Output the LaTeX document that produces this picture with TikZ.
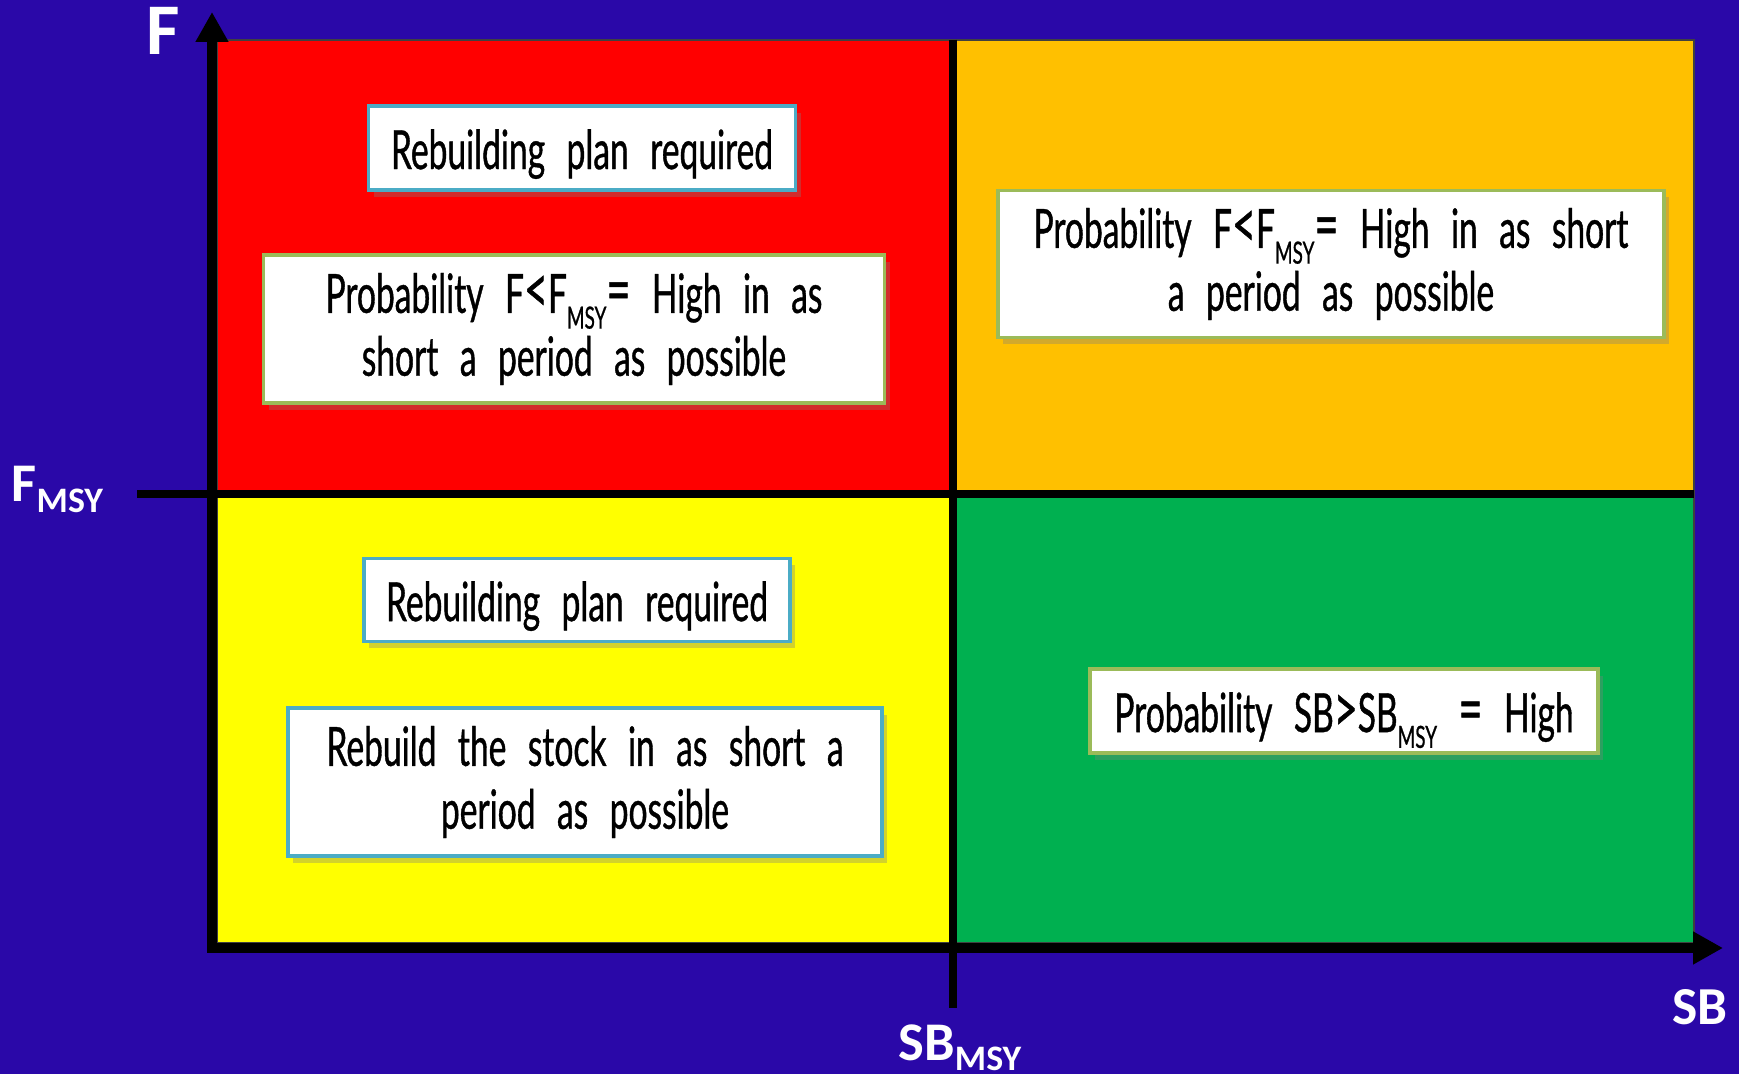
\documentclass[tikz,border=0pt]{standalone}
\usepackage{fontspec}
\setmainfont{Carlito}
\newfontfamily\boxfont[FakeStretch=0.62,WordSpace=2.5,FakeBold=0.7]{Lato}
\usetikzlibrary{arrows.meta, shadows}

% lowered subscript inside the boxes
\newcommand{\boxsub}[1]{\raisebox{-4.5pt}[0pt][0pt]{\fontsize{8.7}{8.7}\selectfont #1}}
% larger comparison signs inside the boxes
\newcommand{\boxrel}[1]{{\fontsize{19}{17.9}\selectfont #1}}
% lowered subscript on the axis labels
\newcommand{\axissub}[1]{\raisebox{-3.1pt}{\fontsize{10.2}{10.2}\selectfont #1}}

\begin{document}
\begin{tikzpicture}[x=0.1mm, y=-0.1mm,
    quadrant/.style={draw=black!75, line width=0.4pt},
    infobox/.style={draw=#1, line width=0.9pt, fill=white, align=center, inner sep=0pt,
        font=\boxfont\fontsize{15.4}{17.9}\selectfont,
        execute at begin node={\rule{0pt}{14.8pt}},
        drop shadow={opacity=0.35, shadow xshift=0.5mm, shadow yshift=-0.7mm}},
    axislabel/.style={text=white, font=\bfseries, inner sep=0pt},
    axisline/.style={line width=1mm, -{Triangle[length=3mm, width=3.1mm]}}]
    % Define colors
    \definecolor{bgColour}{HTML}{2A08A8}
    \definecolor{redColour}{HTML}{FF0000}
    \definecolor{orangeColour}{HTML}{FFC000}
    \definecolor{yellowColour}{HTML}{FFFF00}
    \definecolor{greenColour}{HTML}{00B050}
    \definecolor{blueEdge}{HTML}{4BACC6}
    \definecolor{greenEdge}{HTML}{9BBB59}

    % Background
    \useasboundingbox (0,0) rectangle (1739,1074);
    \fill[bgColour] (0,0) rectangle (1739,1074);

    % Draw quadrants
    \filldraw[quadrant, fill=redColour] (217,40) rectangle (953,494);
    \filldraw[quadrant, fill=orangeColour] (953,40) rectangle (1694,494);
    \filldraw[quadrant, fill=yellowColour] (217,494) rectangle (953,943);
    \filldraw[quadrant, fill=greenColour] (953,494) rectangle (1694,943);

    % Define coordinates for the axes
    \coordinate (origin) at (212,948);
    \coordinate (fTip) at (212,12);
    \coordinate (sbStart) at (207,948);
    \coordinate (sbTip) at (1723,948);
    \coordinate (msyLeft) at (137,494);
    \coordinate (msyRight) at (1694,494);
    \coordinate (msyTop) at (953,40);
    \coordinate (msyBottom) at (953,1008);

    % Draw axes and reference lines
    \draw[axisline] ([yshift=-0.5mm]origin) -- (fTip);
    \draw[axisline] (sbStart) -- (sbTip);
    \draw[line width=0.8mm] (msyLeft) -- (msyRight);
    \draw[line width=0.8mm] (msyTop) -- (msyBottom);

    % Label axes
    \node[axislabel, anchor=base, font=\bfseries\fontsize{20.7}{20.7}\selectfont] (fLabel) at (163,55) {F};
    \node[axislabel, anchor=base west, font=\bfseries\fontsize{15.5}{15.5}\selectfont] (fMsyLabel) at (11,502) {F\axissub{MSY}};
    \node[axislabel, anchor=base west, font=\bfseries\fontsize{15.5}{15.5}\selectfont] (sbMsyLabel) at (898,1060) {SB\axissub{MSY}};
    \node[axislabel, anchor=base east, font=\bfseries\fontsize{15.2}{15.2}\selectfont] (sbLabel) at (1728,1024) {SB};

    % Boxes in the red quadrant
    \node[infobox=blueEdge, minimum width=42.7mm, minimum height=8.4mm] (planRed) at (582,148)
        {Rebuilding plan required};
    \node[infobox=greenEdge, minimum width=62.1mm, minimum height=14.8mm] (probRed) at (574,329)
        {Probability F\boxrel{\textless}F\boxsub{MSY}\boxrel{=} High in as\\short a period as possible};

    % Box in the orange quadrant
    \node[infobox=greenEdge, minimum width=66.6mm, minimum height=14.7mm] (probOrange) at (1331,264)
        {Probability F\boxrel{\textless}F\boxsub{MSY}\boxrel{=} High in as short\\a period as possible};

    % Boxes in the yellow quadrant
    \node[infobox=blueEdge, minimum width=42.6mm, minimum height=8.3mm] (planYellow) at (577,600)
        {Rebuilding plan required};
    \node[infobox=blueEdge, minimum width=59.4mm, minimum height=14.8mm] (rebuildYellow) at (585,782)
        {Rebuild the stock in as short a\\period as possible};

    % Box in the green quadrant
    \node[infobox=greenEdge, minimum width=50.8mm, minimum height=8.4mm] (probGreen) at (1344,711)
        {Probability SB\boxrel{\textgreater}SB\boxsub{MSY} \boxrel{=} High};

\end{tikzpicture}
\end{document}
